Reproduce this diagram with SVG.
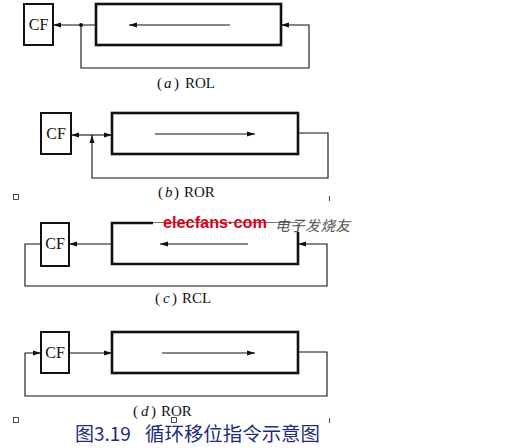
<svg xmlns="http://www.w3.org/2000/svg" width="512" height="448" viewBox="0 0 512 448">
<style>
.cf{fill:#fff;stroke:#111;stroke-width:2}
.reg{fill:#fff;stroke:#111;stroke-width:2.6}
.ln{fill:none;stroke:#111;stroke-width:1.1}
.lbl{font-family:"Liberation Serif",serif;font-size:15px;fill:#111}
.cft{font-family:"Liberation Serif",serif;font-size:16px;fill:#111;text-anchor:middle}
.it{font-style:italic}
.mk{fill:none;stroke:#222;stroke-width:0.8}
</style>
<defs>
<marker id="ah" viewBox="0 0 8 6" refX="8" refY="3" markerWidth="8" markerHeight="6" markerUnits="userSpaceOnUse" orient="auto">
<path d="M0,0.5 L8,3 L0,5.5 Z" fill="#111"/>
</marker>
</defs>
<rect width="512" height="448" fill="#fff"/>

<!-- panel a -->
<g id="a-cf"><rect class="cf" x="24" y="4" width="29" height="41"/><text class="cft" x="38.5" y="30">CF</text></g>
<g id="a-reg"><rect class="reg" x="96" y="4" width="185" height="41"/><line class="ln" x1="230" y1="25" x2="129" y2="25" marker-end="url(#ah)"/></g>
<g id="a-label"><text class="lbl" y="88"><tspan x="157">(</tspan><tspan x="164" class="it">a</tspan><tspan x="174">)</tspan><tspan x="185">ROL</tspan></text></g>

<!-- panel b -->
<g id="b-cf"><rect class="cf" x="41" y="113" width="30" height="41"/><text class="cft" x="56" y="139">CF</text></g>
<g id="b-reg"><rect class="reg" x="112" y="113" width="186" height="41"/><line class="ln" x1="155" y1="134" x2="255" y2="134" marker-end="url(#ah)"/></g>
<g id="b-label"><text class="lbl" y="197"><tspan x="158">(</tspan><tspan x="165" class="it">b</tspan><tspan x="174">)</tspan><tspan x="184">ROR</tspan></text></g>

<!-- panel c -->
<g id="c-cf"><rect class="cf" x="41" y="223" width="28" height="43"/><text class="cft" x="55" y="249">CF</text></g>
<g id="c-reg">
<path d="M153,223 H112 V264 H298 V232" fill="#fff" stroke="#111" stroke-width="2.6"/>
<path d="M153,222.5 H298 V232" fill="none" stroke="#777" stroke-width="1"/>
<line class="ln" x1="248" y1="244" x2="160" y2="244" marker-end="url(#ah)"/>
</g>
<g id="c-label"><text class="lbl" y="303"><tspan x="155">(</tspan><tspan x="163" class="it">c</tspan><tspan x="172">)</tspan><tspan x="182">RCL</tspan></text></g>

<!-- panel d -->
<g id="d-cf"><rect class="cf" x="41" y="332" width="28" height="41"/><text class="cft" x="55" y="358">CF</text></g>
<g id="d-reg"><rect class="reg" x="112" y="332" width="186" height="41"/><line class="ln" x1="162" y1="353" x2="255" y2="353" marker-end="url(#ah)"/></g>
<g id="d-label"><text class="lbl" y="416"><tspan x="133">(</tspan><tspan x="141" class="it">d</tspan><tspan x="151">)</tspan><tspan x="161">ROR</tspan></text></g>

<g id="connectors">
<line class="ln" x1="96" y1="25" x2="53" y2="25" marker-end="url(#ah)"/>
<circle cx="81" cy="25" r="2" fill="#111"/>
<path class="ln" d="M81,25 V68 H309 V25 H281" marker-end="url(#ah)"/>
<path class="ln" d="M92,135 H71" marker-end="url(#ah)"/>
<path class="ln" d="M92,135 H112" marker-end="url(#ah)"/>
<path class="ln" d="M298,133 H328 V178 H92 V135" marker-end="url(#ah)"/>
<path class="ln" d="M112,244 H69" marker-end="url(#ah)"/>
<path class="ln" d="M41,244 H25 V286 H327 V244 H298" marker-end="url(#ah)"/>
<path class="ln" d="M69,353 H112" marker-end="url(#ah)"/>
<path class="ln" d="M298,352 H327 V396 H25 V353 H41" marker-end="url(#ah)"/>
</g>

<!-- watermark -->
<text x="163" y="228" font-family="'Liberation Sans',Arial,sans-serif" font-weight="bold" font-size="17" fill="#d9001b" textLength="104" lengthAdjust="spacingAndGlyphs">elecfans·com</text>
<text x="275" y="231" font-family="'Noto Sans CJK SC',sans-serif" font-size="14.5" font-style="italic" fill="#555" textLength="75">电子发烧友</text>

<!-- small marks -->
<rect class="mk" x="13.5" y="194.5" width="5" height="5"/>
<line class="mk" x1="329.5" y1="196" x2="329.5" y2="201"/>
<rect class="mk" x="13.5" y="417.5" width="5" height="5"/>
<rect class="mk" x="171.5" y="417.5" width="5" height="5"/>
<line class="mk" x1="329.5" y1="418" x2="329.5" y2="423"/>

<!-- caption -->
<g id="caption" fill="#1e2b7e" font-family="'Noto Sans CJK SC',sans-serif" font-size="19">
<text x="75" y="441">图3.19</text>
<text x="145" y="441" textLength="175" lengthAdjust="spacingAndGlyphs">循环移位指令示意图</text>
</g>
</svg>
